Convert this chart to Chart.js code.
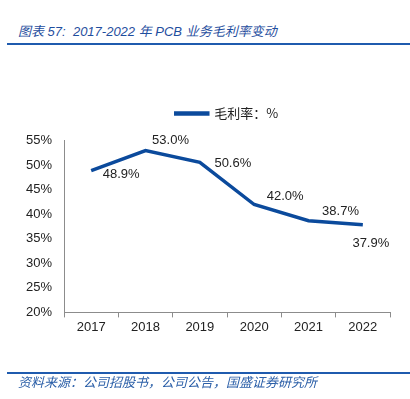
<!DOCTYPE html>
<html>
<head>
<meta charset="utf-8">
<script src="https://cdn.jsdelivr.net/npm/chart.js@4"></script>
<style>
  body { margin: 0; background: #fff; }
  .wrap { position: relative; width: 410px; height: 399px; }
  .title { position: absolute; left: 18px; top: 21px; font: italic 13px "Liberation Sans", "Noto Sans CJK SC", sans-serif; color: #1F4E9E; white-space: nowrap; }
  .rule { position: absolute; left: 7px; right: 0; height: 2px; background: #1F5BAE; }
  .source { position: absolute; left: 18px; top: 372px; font: italic 13px "Liberation Sans", "Noto Sans CJK SC", sans-serif; color: #2B5FA8; white-space: nowrap; }
  #chart { position: absolute; left: 0; top: 0; }
</style>
</head>
<body>
<div class="wrap">
  <div class="title">图表 57:&nbsp; 2017-2022 年 PCB 业务毛利率变动</div>
  <div class="rule" style="top: 43px;"></div>
  <canvas id="chart" width="410" height="399"></canvas>
  <div class="rule" style="top: 372px; height: 1.5px;"></div>
  <div class="source">资料来源：公司招股书，公司公告，国盛证券研究所</div>
</div>
<script>
const years = ['2017', '2018', '2019', '2020', '2021', '2022'];
const margin = [48.9, 53.0, 50.6, 42.0, 38.7, 37.9];
const yTicks = [20, 25, 30, 35, 40, 45, 50, 55];

// label offsets (dx, dy) from each point
const labelOffset = [[30, 4], [25, -10], [33, 1], [31, -8], [32, -9], [8, 19]];

const pointLabels = {
    id: 'pointLabels',
    afterDatasetsDraw(chart) {
        const ctx = chart.ctx;
        const meta = chart.getDatasetMeta(0);
        ctx.save();
        ctx.font = '13px "Liberation Sans", Arial, sans-serif';
        ctx.fillStyle = '#222';
        ctx.textAlign = 'center';
        ctx.textBaseline = 'middle';
        meta.data.forEach((pt, i) => {
            const off = labelOffset[i];
            ctx.fillText(margin[i].toFixed(1) + '%', pt.x + off[0], pt.y + off[1]);
        });
        ctx.restore();
    }
};

const el = document.getElementById('chart');
new Chart(el, {
    type: 'line',
    data: {
        labels: years,
        datasets: [{
            label: '毛利率：%',
            data: margin,
            borderColor: '#0B4A9C',
            backgroundColor: '#0B4A9C',
            borderWidth: 3.5,
            pointRadius: 0,
            tension: 0,
            fill: false
        }]
    },
    options: {
        responsive: false,
        animation: false,
        layout: {
            padding: { top: 82, left: 14, right: 20, bottom: 62 }
        },
        scales: {
            x: {
                offset: true,
                grid: {
                    offset: true,
                    drawOnChartArea: false,
                    drawTicks: true,
                    tickLength: 5,
                    color: '#8c8c8c'
                },
                border: { color: '#8c8c8c', width: 1 },
                ticks: {
                    color: '#222',
                    padding: 2,
                    font: { family: '"Liberation Sans", Arial, sans-serif', size: 13 }
                }
            },
            y: {
                min: 20,
                max: 55,
                afterBuildTicks(axis) {
                    axis.ticks = yTicks.map(v => ({ value: v }));
                },
                grid: { display: false, drawTicks: false },
                border: { color: '#8c8c8c', width: 1 },
                ticks: {
                    color: '#222',
                    padding: 12,
                    callback: v => v + '%',
                    font: { family: '"Liberation Sans", Arial, sans-serif', size: 13 }
                }
            }
        },
        plugins: {
            legend: {
                display: true,
                position: 'top',
                fullSize: false,
                labels: {
                    boxWidth: 32,
                    boxHeight: 1,
                    padding: 25,
                    color: '#222',
                    font: { family: '"Noto Sans CJK SC", sans-serif', size: 13 }
                }
            },
            // empty spacer between legend and plot
            subtitle: {
                display: true,
                text: '',
                position: 'top',
                weight: 500,
                padding: 0,
                font: { size: 9 }
            },
            tooltip: { enabled: false }
        }
    },
    plugins: [pointLabels]
});
</script>
</body>
</html>
